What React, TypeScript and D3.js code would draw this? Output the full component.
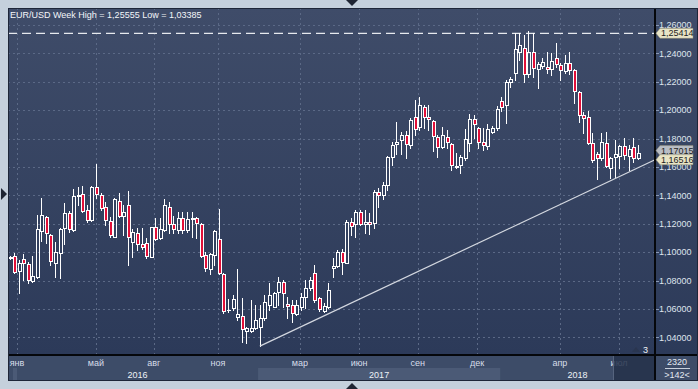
import React from 'react';
import * as d3 from 'd3';

// weekly candles, [open, high, low, close]
const ohlc: [number, number, number, number][] = [
  [1.0962, 1.0975, 1.0955, 1.0967], [1.0974, 1.0993, 1.0856, 1.0863], [1.0870, 1.0946, 1.0715, 1.0927],
  [1.0951, 1.0988, 1.0805, 1.0922], [1.0917, 1.0934, 1.0782, 1.0805], [1.0796, 1.0974, 1.0790, 1.0833],
  [1.0828, 1.1260, 1.0817, 1.1162], [1.1148, 1.1380, 1.1081, 1.1260], [1.1246, 1.1255, 1.1067, 1.1133],
  [1.1120, 1.1129, 1.0913, 1.0937], [1.0922, 1.1074, 1.0828, 1.1004], [1.0993, 1.1169, 1.0821, 1.1162],
  [1.1169, 1.1349, 1.1058, 1.1274], [1.1274, 1.1291, 1.1145, 1.1166], [1.1157, 1.1443, 1.1150, 1.1396],
  [1.1398, 1.1462, 1.1333, 1.1403], [1.1408, 1.1467, 1.1281, 1.1291], [1.1296, 1.1333, 1.1215, 1.1225],
  [1.1227, 1.1467, 1.1222, 1.1457], [1.1457, 1.1621, 1.1384, 1.1410], [1.1401, 1.1420, 1.1298, 1.1310],
  [1.1317, 1.1356, 1.1192, 1.1227], [1.1222, 1.1250, 1.1110, 1.1120], [1.1110, 1.1380, 1.1105, 1.1373],
  [1.1359, 1.1420, 1.1250, 1.1255], [1.1255, 1.1333, 1.1122, 1.1281], [1.1331, 1.1431, 1.0913, 1.1110],
  [1.1075, 1.1166, 1.0969, 1.1143], [1.1133, 1.1169, 1.1016, 1.1058], [1.1056, 1.1169, 1.1025, 1.1035],
  [1.1063, 1.1103, 1.0958, 1.0976], [1.0969, 1.1180, 1.0965, 1.1176], [1.1176, 1.1239, 1.1086, 1.1091],
  [1.1098, 1.1239, 1.1091, 1.1162], [1.1157, 1.1373, 1.1152, 1.1333], [1.1317, 1.1356, 1.1134, 1.1199],
  [1.1197, 1.1255, 1.1134, 1.1162], [1.1157, 1.1286, 1.1134, 1.1239], [1.1239, 1.1286, 1.1134, 1.1157],
  [1.1157, 1.1286, 1.1145, 1.1234], [1.1237, 1.1281, 1.1105, 1.1241], [1.1239, 1.1250, 1.1100, 1.1204],
  [1.1199, 1.1204, 1.0969, 1.0974], [1.0979, 1.1004, 1.0870, 1.0887], [1.0880, 1.0997, 1.0847, 1.0990],
  [1.0979, 1.1157, 1.0910, 1.1148], [1.1091, 1.1303, 1.0847, 1.0856], [1.0845, 1.0852, 1.0570, 1.0589],
  [1.0591, 1.0669, 1.0582, 1.0596], [1.0606, 1.0699, 1.0594, 1.0669], [1.0542, 1.0880, 1.0523, 1.0563],
  [1.0551, 1.0676, 1.0370, 1.0458], [1.0448, 1.0476, 1.0359, 1.0465], [1.0448, 1.0664, 1.0441, 1.0465],
  [1.0465, 1.0629, 1.0458, 1.0523], [1.0472, 1.0629, 1.03385, 1.0539], [1.0535, 1.0699, 1.0523, 1.0652],
  [1.0629, 1.0782, 1.0594, 1.0699], [1.0617, 1.0723, 1.0613, 1.0711], [1.0723, 1.0828, 1.0629, 1.0793],
  [1.0793, 1.0805, 1.0617, 1.0716], [1.0636, 1.0687, 1.0535, 1.0622], [1.0629, 1.0664, 1.0511, 1.0570],
  [1.0565, 1.0664, 1.0558, 1.0629], [1.0617, 1.0711, 1.0594, 1.0683], [1.0683, 1.0805, 1.0606, 1.0746],
  [1.0746, 1.0828, 1.0734, 1.0805], [1.0852, 1.0910, 1.0652, 1.0664], [1.0676, 1.0687, 1.0589, 1.0599],
  [1.0584, 1.0641, 1.0580, 1.0622], [1.0612, 1.0782, 1.0606, 1.0734], [1.0887, 1.0957, 1.0824, 1.0903],
  [1.0903, 1.1016, 1.0894, 1.1004], [1.1004, 1.1021, 1.0845, 1.0934], [1.0927, 1.1227, 1.0922, 1.1215],
  [1.1211, 1.1239, 1.1122, 1.1185], [1.1199, 1.1298, 1.1110, 1.1286], [1.1281, 1.1298, 1.1192, 1.1199],
  [1.1199, 1.1298, 1.1134, 1.1215], [1.1211, 1.1274, 1.1127, 1.1197], [1.1204, 1.1438, 1.1173, 1.1427],
  [1.1427, 1.1450, 1.1317, 1.1403], [1.1403, 1.1497, 1.1375, 1.1474], [1.1472, 1.1678, 1.1438, 1.1669],
  [1.1673, 1.1779, 1.1614, 1.1755], [1.1760, 1.1919, 1.1692, 1.1774], [1.1790, 1.1849, 1.1692, 1.1826],
  [1.1826, 1.1856, 1.1661, 1.1762], [1.1755, 1.1943, 1.1732, 1.1931], [1.1950, 1.2072, 1.1826, 1.1865],
  [1.1880, 1.2096, 1.1861, 1.2037], [1.2020, 1.2037, 1.1872, 1.1950], [1.1950, 1.2037, 1.1861, 1.1938],
  [1.1924, 1.1931, 1.1715, 1.1818], [1.1809, 1.1826, 1.1668, 1.1739], [1.1739, 1.1884, 1.1732, 1.1826],
  [1.1809, 1.1861, 1.1732, 1.1779], [1.1762, 1.1767, 1.1579, 1.1614], [1.1600, 1.1701, 1.1596, 1.1607],
  [1.1614, 1.1685, 1.1556, 1.1668], [1.1661, 1.1865, 1.1650, 1.1795], [1.1767, 1.1971, 1.1715, 1.1936],
  [1.1936, 1.1966, 1.1802, 1.1901], [1.1873, 1.1884, 1.1732, 1.1774], [1.1776, 1.1872, 1.1720, 1.1753],
  [1.1748, 1.1903, 1.1725, 1.1865], [1.1849, 1.1889, 1.1837, 1.1873], [1.1873, 1.2030, 1.1861, 1.2006],
  [1.2067, 1.2096, 1.1997, 1.2025], [1.2037, 1.2213, 1.1912, 1.2201], [1.2201, 1.2232, 1.2166, 1.2217],
  [1.2260, 1.2541, 1.2213, 1.2429], [1.2412, 1.2541, 1.2354, 1.2459], [1.2436, 1.2530, 1.2201, 1.2255],
  [1.2255, 1.25555, 1.2236, 1.2408], [1.2412, 1.2541, 1.2236, 1.2295], [1.2288, 1.2342, 1.2154, 1.2325],
  [1.2311, 1.2365, 1.2295, 1.2342], [1.2307, 1.2412, 1.2260, 1.2288], [1.2288, 1.2400, 1.2248, 1.2349],
  [1.2365, 1.2476, 1.2307, 1.2325], [1.2318, 1.2330, 1.2213, 1.2283], [1.2278, 1.2389, 1.2260, 1.2330],
  [1.2330, 1.2412, 1.2255, 1.2283], [1.2283, 1.2288, 1.2053, 1.2138], [1.2131, 1.2138, 1.1919, 1.1966],
  [1.1966, 1.1990, 1.1837, 1.1943], [1.1950, 1.1997, 1.1762, 1.1772], [1.1767, 1.1837, 1.1638, 1.1649],
  [1.1689, 1.1708, 1.1513, 1.1666], [1.1661, 1.1842, 1.1650, 1.1774], [1.1772, 1.1849, 1.1603, 1.1610],
  [1.1596, 1.1673, 1.1520, 1.1661], [1.1673, 1.1790, 1.1532, 1.1692], [1.1678, 1.1755, 1.1591, 1.1748],
  [1.1750, 1.1802, 1.1654, 1.1685], [1.1678, 1.1755, 1.1579, 1.1727], [1.1739, 1.1802, 1.1638, 1.1661],
  [1.1661, 1.1755, 1.1654, 1.17015],
];

const priceTicks = [1.04, 1.06, 1.08, 1.1, 1.12, 1.14, 1.16, 1.18, 1.2, 1.22, 1.24, 1.26];
// month starts, in candle-index units
const monthTicks: [string, number][] = [
  ['янв', 1.65], ['май', 19.0], ['авг', 31.7], ['ноя', 45.8], ['мар', 63.8],
  ['июн', 76.8], ['сен', 89.7], ['дек', 102.7], ['апр', 120.9], ['июл', 133.9],
];
const yearStarts: [string, number][] = [['2016', 1.65], ['2017', 54.6], ['2018', 107.8]];

const title = 'EUR/USD Week High = 1,25555 Low = 1,03385';
const levelPrice = 1.25414;
const trendFrom = 55; // candle of the low
const trendEndPrice = 1.16516;
const lastPrice = 1.17015;

const W = 698, H = 389;
const L = 8, T = 8, R = 655, B = 355, AB = 381;
const FONT = '"Liberation Sans", Arial, sans-serif';
const RED = '#e10f38';

const fmt = (v: number) => v.toFixed(5).replace('.', ',');

const PriceTag = ({ y, text, fill }: { y: number; text: string; fill: string }) => (
  <g>
    <path d={`M${R + 1},${y} L${R + 5},${y - 5} L${R + 38},${y - 5} L${R + 38},${y + 5} L${R + 5},${y + 5} Z`}
      fill={fill} stroke="#8f8a70" strokeWidth={0.5} />
    <text x={R + 6} y={y} dy="0.35em" fontSize={9} fill="#1d1d1d" fontFamily={FONT}>{text}</text>
  </g>
);

export default function App() {
  const x = d3.scaleLinear().domain([0, ohlc.length - 1]).range([9.5, 637.7]);
  const y = d3.scaleLinear().domain([1.04, 1.26]).range([337.4, 25]);
  const rightIdx = x.invert(R);

  const bands = yearStarts.map(([label, start], i) => {
    const end = i < yearStarts.length - 1 ? yearStarts[i + 1][1] : rightIdx;
    const x0 = i === 0 ? L : x(start);
    return { label, x0, x1: x(end), cx: (x(start) + x(end)) / 2, alt: i % 2 === 1 };
  });

  const candles = ohlc.map(([o, h, l, c], i) => {
    const cx = Math.round(x(i));
    const yo = Math.round(y(o)), yc = Math.round(y(c));
    const yh = Math.round(y(h)), yl = Math.round(y(l));
    const top = Math.min(yo, yc), bot = Math.max(yo, yc);
    const up = c >= o;
    return (
      <g key={i}>
        {yh < top && <line x1={cx + 0.5} x2={cx + 0.5} y1={yh} y2={top} stroke="#fff" />}
        {yl > bot && <line x1={cx + 0.5} x2={cx + 0.5} y1={bot + 1} y2={yl + 1} stroke="#fff" />}
        {bot - top < 1 ? (
          <line x1={cx - 1} x2={cx + 3} y1={top + 0.5} y2={top + 0.5} stroke="#fff" />
        ) : (
          <rect x={cx - 0.5} y={top + 0.5} width={3} height={bot - top}
            fill={up ? 'none' : RED} stroke="#fff" strokeWidth={1} />
        )}
      </g>
    );
  });

  return (
    <svg width={W} height={H} style={{ position: 'absolute', left: 0, top: 0 }} fontFamily={FONT}>
      <defs>
        <linearGradient id="bg" x1="0" y1="0" x2="0" y2="1">
          <stop offset="0" stopColor="#3f4c69" />
          <stop offset="1" stopColor="#2c3a59" />
        </linearGradient>
        <clipPath id="plot">
          <rect x={L} y={T} width={R - L} height={B - T} />
        </clipPath>
      </defs>

      <rect width={W} height={H} fill="#c5d0dc" />
      <rect x={L} y={T} width={W - L} height={B - T} fill="url(#bg)" />

      {/* frame arrows */}
      <path d="M346,0 L358,0 L352,6 Z" fill="#1f2533" />
      <path d="M346,389 L358,389 L352,383 Z" fill="#1f2533" />
      <path d="M1,188 L1,200 L7,194 Z" fill="#1f2533" />

      {/* bottom time panel */}
      <rect x={L} y={B} width={W - L} height={AB - B} fill="#3d4c68" />
      {bands.filter(b => b.alt).map(b => (
        <rect key={b.label} x={b.x0} y={368} width={b.x1 - b.x0} height={AB - 368} fill="#4b5a76" />
      ))}
      <rect x={13} y={368} width={4} height={AB - 368} fill="#4b5a76" />
      {monthTicks.map(([label, at]) => (
        <text key={label} x={x(at)} y={366} textAnchor="middle" fontSize={9} fill="#d7dde8">{label}</text>
      ))}
      {bands.map(b => (
        <text key={b.label} x={b.cx} y={377.5} textAnchor="middle" fontSize={9} fill="#eef2f7">{b.label}</text>
      ))}
      <rect x={613} y={B} width={R - 613} height={AB - B} fill="#25314a" fillOpacity={0.85} />
      <line x1={613.5} x2={613.5} y1={B} y2={AB} stroke="#56647e" />

      {/* corner box */}
      <text x={677} y={365} textAnchor="middle" fontSize={9} fill="#e3e8f0">2320</text>
      <line x1={665} x2={690} y1={368.5} y2={368.5} stroke="#c8d0dc" />
      <text x={677} y={378} textAnchor="middle" fontSize={9} fill="#e3e8f0">&gt;142&lt;</text>

      {/* grid */}
      <g clipPath="url(#plot)" stroke="#5b6986" strokeDasharray="2,3" shapeRendering="crispEdges">
        {priceTicks.map(v => (
          <line key={v} x1={L} x2={R} y1={Math.round(y(v)) + 0.5} y2={Math.round(y(v)) + 0.5} />
        ))}
        {monthTicks.map(([label, at]) => (
          <line key={label} x1={Math.round(x(at)) + 0.5} x2={Math.round(x(at)) + 0.5} y1={T} y2={B} />
        ))}
      </g>

      <text x={10} y={18} fontSize={9} fill="#f4f6f9">{title}</text>

      {/* level line */}
      <line x1={L} x2={R} y1={y(levelPrice)} y2={y(levelPrice)} stroke="#e6e9ee" strokeWidth={1.2} strokeDasharray="9,5" />

      <g clipPath="url(#plot)" shapeRendering="crispEdges">{candles}</g>

      {/* trend line */}
      <line x1={x(trendFrom)} y1={y(ohlc[trendFrom][2])} x2={x(rightIdx)} y2={y(trendEndPrice)}
        stroke="#d4d8e0" strokeWidth={1.2} />

      {/* marker */}
      <path d="M632,352 L636,347 L640,352 Z" fill="#2a3650" />
      <text x={643} y={352.5} fontSize={9} fill="#f0f3f7">3</text>

      {/* right axis */}
      <line x1={R} x2={R} y1={T} y2={AB} stroke="#05070b" strokeWidth={2} />
      <line x1={L} x2={W} y1={B} y2={B} stroke="#05070b" strokeWidth={2} />
      {priceTicks.map(v => (
        <g key={v}>
          <line x1={R + 1} x2={R + 4} y1={Math.round(y(v)) + 0.5} y2={Math.round(y(v)) + 0.5} stroke="#8797b5" />
          <text x={659} y={y(v)} dy="0.35em" fontSize={9} fill="#dfe5ee">{fmt(v)}</text>
        </g>
      ))}
      <PriceTag y={y(levelPrice)} text={fmt(levelPrice)} fill="#e8e4c6" />
      <PriceTag y={y(lastPrice) - 2} text={fmt(lastPrice)} fill="#b9bdc5" />
      <PriceTag y={y(trendEndPrice)} text={fmt(trendEndPrice)} fill="#e8e4c6" />

      <rect x={L + 0.5} y={T + 0.5} width={W - L - 1} height={AB - T - 1} fill="none" stroke="#1e2638" />
    </svg>
  );
}
